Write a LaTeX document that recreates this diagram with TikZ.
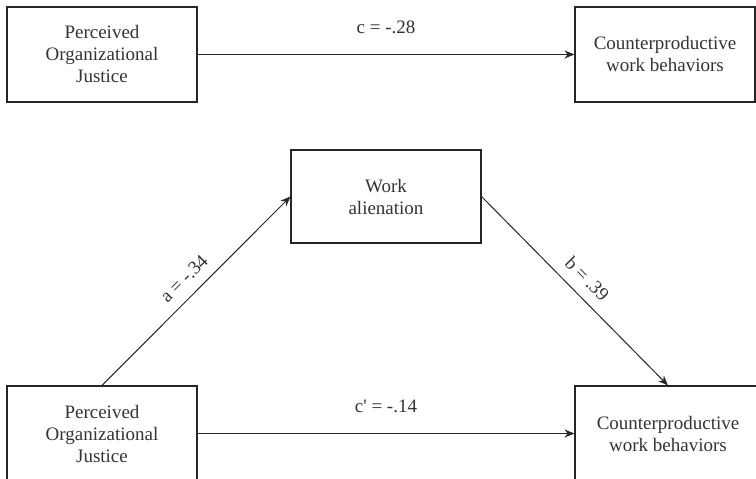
\documentclass[tikz,border=0pt]{standalone}
\usepackage{fontspec}
\setmainfont{Liberation Serif}
\usetikzlibrary{arrows.meta}
\begin{document}
\begin{tikzpicture}[x=1pt,y=-1pt,
		box/.style={draw=black!85,line width=1.1pt,align=center,inner sep=0pt,font=\fontsize{19}{22}\selectfont,text=black!80},
		effect/.style={draw=black!85,line width=1pt,-{Stealth[length=10pt,width=8pt]}},
		coef/.style={font=\fontsize{19}{22}\selectfont,text=black!80}]
	\useasboundingbox (0,0) rectangle (756,479);
	\clip (0,0) rectangle (756,479);
	% total effect
	\node [box,minimum width=190pt,minimum height=95pt] (justiceA) at (102,54.5) {Perceived\\Organizational\\Justice};
	\node [box,minimum width=180pt,minimum height=95pt] (cwbA) at (665,54.5) {Counterproductive\\work behaviors};
	\draw [effect] (justiceA) -- (cwbA) node [coef,midway,above=17pt] (c) {c = -.28};
	% mediation model
	\node [box,minimum width=190pt,minimum height=93pt] (alien) at (386,196.5) {Work\\alienation};
	\node [box,minimum width=190pt,minimum height=95pt] (justiceB) at (102,433.5) {Perceived\\Organizational\\Justice};
	\node [box,minimum width=186pt,minimum height=95pt] (cwbB) at (668,433.5) {Counterproductive\\work behaviors};
	\draw [effect] (justiceB.north) -- (alien.west) node [coef,midway,sloped,above=7pt] (a) {a = -.34};
	\draw [effect] (alien.east) -- (cwbB.north) node [coef,midway,sloped,above=7pt] (b) {b = .39};
	\draw [effect] (justiceB) -- (cwbB) node [coef,midway,above=17pt] (cp) {c\textquotesingle{} = -.14};
\end{tikzpicture}
\end{document}
